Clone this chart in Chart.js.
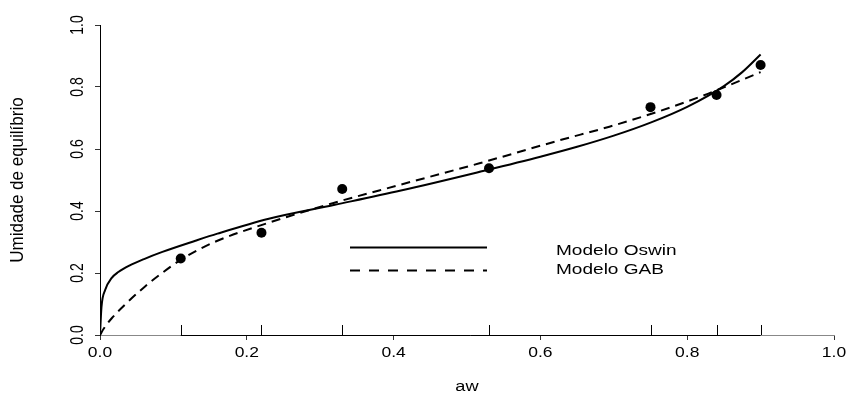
<!DOCTYPE html>
<html>
<head>
<meta charset="utf-8">
<script src="https://cdn.jsdelivr.net/npm/chart.js@4"></script>
<style>
  body { margin: 0; background: #fff; }
</style>
</head>
<body>
<canvas id="isoChart" width="849" height="401"></canvas>
<script>
// Experimental points
const awPoints = [0.11, 0.22, 0.33, 0.53, 0.75, 0.84, 0.90];
const uePoints = [0.247, 0.330, 0.471, 0.538, 0.735, 0.774, 0.871];

// Modelo Oswin
const awOswin = [0, 0.002, 0.007, 0.016, 0.025, 0.04, 0.06, 0.085, 0.13, 0.16, 0.23, 0.32, 0.41, 0.52, 0.60, 0.65, 0.70, 0.75, 0.80, 0.85, 0.875, 0.90];
const ueOswin = [0, 0.09, 0.145, 0.184, 0.203, 0.224, 0.245, 0.268, 0.304, 0.327, 0.375, 0.42, 0.466, 0.528, 0.575, 0.607, 0.643, 0.685, 0.736, 0.803, 0.848, 0.905];

// Modelo GAB
const awGab = [0, 0.005, 0.016, 0.0385, 0.061, 0.084, 0.111, 0.156, 0.227, 0.317, 0.408, 0.517, 0.626, 0.694, 0.762, 0.828, 0.9];
const ueGab = [0, 0.02, 0.054, 0.108, 0.156, 0.199, 0.244, 0.300, 0.360, 0.425, 0.484, 0.554, 0.628, 0.672, 0.722, 0.778, 0.848];

// Tick labels
const xTickLabels = ['0.0', '0.2', '0.4', '0.6', '0.8', '1.0'];
const yTickLabels = ['0.0', '0.2', '0.4', '0.6', '0.8', '1.0'];
const legendLabels = ['Modelo Oswin', 'Modelo GAB'];

const FONT = '"Liberation Sans", Arial, sans-serif';

function toXY(xs, ys) {
  return xs.map((x, i) => ({ x: x, y: ys[i] }));
}

// text is wider in the original, so draw it stretched by hand
function drawText(ctx, text, x, y, size, align, rotate, sx) {
  ctx.save();
  ctx.translate(x, y);
  ctx.scale(sx, 1);
  if (rotate) ctx.rotate(-Math.PI / 2);
  ctx.font = size + 'px ' + FONT;
  ctx.fillStyle = '#000';
  ctx.textAlign = align;
  ctx.textBaseline = 'middle';
  ctx.fillText(text, 0, 0);
  ctx.restore();
}

const decorPlugin = {
  id: 'decor',
  afterDraw(chart) {
    const ctx = chart.ctx;
    const xs = chart.scales.x, ys = chart.scales.y;
    const area = chart.chartArea;

    // rug of data positions on the x axis
    ctx.save();
    ctx.strokeStyle = '#000';
    ctx.lineWidth = 1;
    ctx.beginPath();
    const x0 = xs.getPixelForValue(Math.min(...awPoints));
    const x1 = xs.getPixelForValue(Math.max(...awPoints));
    ctx.moveTo(x0, area.bottom + 0.5);
    ctx.lineTo(x1, area.bottom + 0.5);
    awPoints.forEach(v => {
      const px = Math.round(xs.getPixelForValue(v)) + 0.5;
      ctx.moveTo(px, area.bottom);
      ctx.lineTo(px, area.bottom - 10);
    });
    ctx.stroke();
    ctx.restore();

    // tick labels
    xTickLabels.forEach(t => {
      drawText(ctx, t, xs.getPixelForValue(parseFloat(t)), area.bottom + 18, 14, 'center', false, 1.25);
    });
    yTickLabels.forEach(t => {
      drawText(ctx, t, area.left - 22, ys.getPixelForValue(parseFloat(t)), 14, 'center', true, 1.25);
    });

    // axis titles
    drawText(ctx, 'aw', (area.left + area.right) / 2, 387, 14, 'center', false, 1.3);
    drawText(ctx, 'Umidade de equilíbrio', 18, 180, 17, 'center', true, 1.1);

    // legend
    ctx.save();
    ctx.strokeStyle = '#000';
    ctx.lineWidth = 2;
    ctx.beginPath();
    ctx.moveTo(350, 247.5);
    ctx.lineTo(487, 247.5);
    ctx.stroke();
    ctx.setLineDash([10, 9]);
    ctx.beginPath();
    ctx.moveTo(350, 270.5);
    ctx.lineTo(487, 270.5);
    ctx.stroke();
    ctx.restore();
    drawText(ctx, legendLabels[0], 556, 251, 14, 'left', false, 1.36);
    drawText(ctx, legendLabels[1], 556, 270, 14, 'left', false, 1.36);
  }
};

const ctx = document.getElementById('isoChart').getContext('2d');
const isoChart = new Chart(ctx, {
  type: 'scatter',
  data: {
    datasets: [
      {
        label: legendLabels[0],
        data: toXY(awOswin, ueOswin),
        showLine: true,
        borderColor: '#000',
        borderWidth: 2,
        pointRadius: 0,
        cubicInterpolationMode: 'monotone',
        fill: false,
      },
      {
        label: legendLabels[1],
        data: toXY(awGab, ueGab),
        showLine: true,
        borderColor: '#000',
        borderWidth: 2,
        borderDash: [9, 6],
        pointRadius: 0,
        cubicInterpolationMode: 'monotone',
        fill: false,
      },
      {
        label: 'Dados',
        data: toXY(awPoints, uePoints),
        showLine: false,
        backgroundColor: '#000',
        borderWidth: 0,
        pointRadius: 5,
      },
    ],
  },
  options: {
    responsive: false,
    animation: false,
    layout: { padding: { top: 25, right: 15, left: 0, bottom: 0 } },
    plugins: {
      legend: { display: false },
      tooltip: { enabled: false },
    },
    scales: {
      x: {
        type: 'linear',
        min: 0,
        max: 1,
        ticks: { stepSize: 0.2, display: false },
        grid: { drawOnChartArea: false, tickLength: 5, color: '#333' },
        border: { color: '#888', width: 1 },
        afterFit: s => { s.height = 66; },
      },
      y: {
        type: 'linear',
        min: 0,
        max: 1,
        ticks: { stepSize: 0.2, display: false },
        grid: { drawOnChartArea: false, tickLength: 5, color: '#333' },
        border: { color: '#000', width: 1 },
        afterFit: s => { s.width = 100; },
      },
    },
  },
  plugins: [decorPlugin],
});
</script>
</body>
</html>
